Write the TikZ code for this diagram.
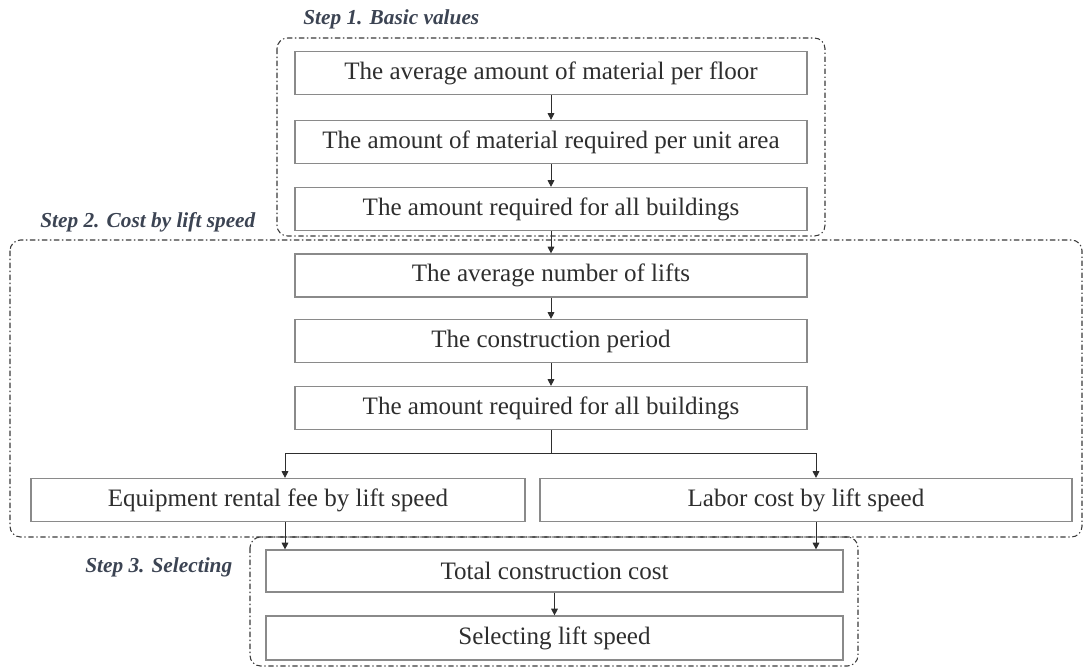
\documentclass[tikz,border=0pt]{standalone}
\usepackage{fontspec}
\setmainfont{Liberation Serif}
\usetikzlibrary{arrows.meta}
\definecolor{boxline}{HTML}{8A8A8A}
\definecolor{txt}{HTML}{2E2E2E}
\definecolor{steplbl}{HTML}{3C4453}
\definecolor{grp}{HTML}{3A3A3A}
\tikzset{
  box/.style={draw=boxline, line width=0.9pt, rectangle, minimum height=32.25pt, inner sep=0pt,
    text=txt, font=\fontsize{18.8}{21}\selectfont},
  grpbox/.style={draw=grp, line width=0.8pt, rounded corners=8pt, dash pattern=on 4pt off 2pt on 1pt off 2pt},
  steplabel/.style={anchor=west, inner sep=0pt, text=steplbl, font=\fontsize{16}{18}\selectfont\bfseries\itshape},
  arr/.style={draw=txt, line width=0.7pt, -{Triangle[length=5pt,width=5pt]}},
  ln/.style={draw=txt, line width=0.7pt}
}
\begin{document}
\begin{tikzpicture}[x=0.75pt,y=-0.75pt]
\useasboundingbox (0,0) rectangle (1084,668);
% group boxes
\draw[grpbox] (277,38) rectangle (825,236);
\draw[grpbox] (10,240) rectangle (1082,537);
\draw[grpbox] (250,537) rectangle (858,666);
% labels
\node[steplabel] (s1) at (303,19) {Step 1. Basic values};
\node[steplabel] (s2) at (40,222) {Step 2. Cost by lift speed};
\node[steplabel] (s3) at (85,567) {Step 3. Selecting};
% boxes
\node[box, minimum width=384pt] (b1) at (551,73) {The average amount of material per floor};
\node[box, minimum width=384pt] (b2) at (551,142) {The amount of material required per unit area};
\node[box, minimum width=384pt] (b3) at (551,209) {The amount required for all buildings};
\node[box, minimum width=384pt] (b4) at (551,275.5) {The average number of lifts};
\node[box, minimum width=384pt] (b5) at (551,341) {The construction period};
\node[box, minimum width=384pt] (b6) at (551,408) {The amount required for all buildings};
\node[box, minimum width=370.5pt] (eq) at (278,500) {Equipment rental fee by lift speed};
\node[box, minimum width=399pt] (lab) at (806,500) {Labor cost by lift speed};
\node[box, minimum width=432.75pt, minimum height=31.5pt] (tot) at (554.5,571) {Total construction cost};
\node[box, minimum width=432.75pt, minimum height=33pt] (sel) at (554.5,638) {Selecting lift speed};
% connectors
\draw[arr] (b1) -- (b2);
\draw[arr] (b2) -- (b3);
\draw[arr] (b3) -- (b4);
\draw[arr] (b4) -- (b5);
\draw[arr] (b5) -- (b6);
\coordinate (sp) at (551,453);
\coordinate (spl) at (285,453);
\coordinate (spr) at (816,453);
\draw[ln] (b6.south) -- (sp);
\draw[arr] (sp) -- (spl) -- (spl |- eq.north);
\draw[arr] (sp) -- (spr) -- (spr |- lab.north);
\draw[arr] (spl |- eq.south) -- (spl |- tot.north);
\draw[arr] (spr |- lab.south) -- (spr |- tot.north);
\draw[arr] (tot) -- (sel);
\end{tikzpicture}
\end{document}
